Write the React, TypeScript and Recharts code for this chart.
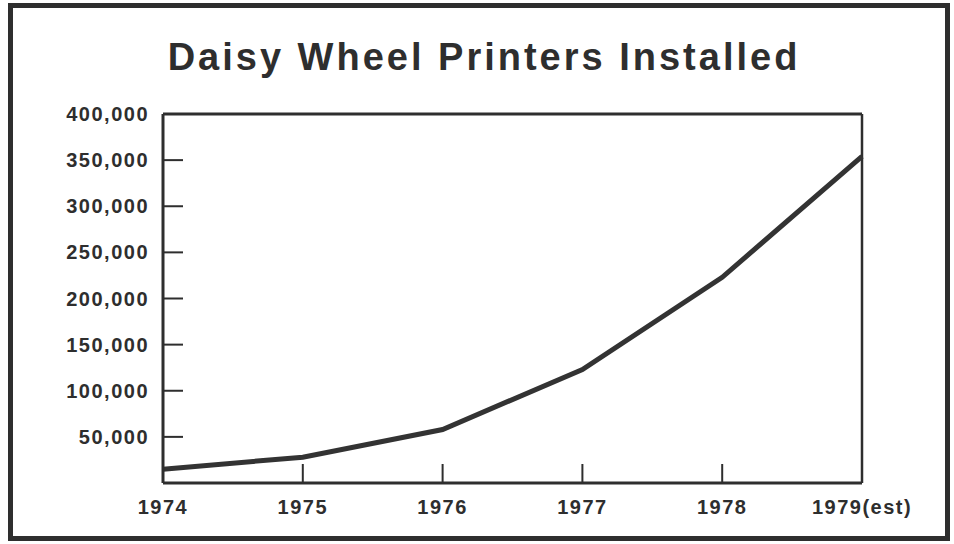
import React from 'react';
import { LineChart, Line, XAxis, YAxis, ReferenceLine } from 'recharts';

const years = [1974, 1975, 1976, 1977, 1978, 1979];
const yearLabels = ['1974', '1975', '1976', '1977', '1978', '1979(est)'];
const installed = [15000, 28000, 58000, 123000, 223000, 354000];
const yTicks = [50000, 100000, 150000, 200000, 250000, 300000, 350000, 400000];

const data = years.map((y, i) => ({ year: y, installed: installed[i] }));

const INK = '#2e2e2e';
const FONT = '"Liberation Sans", Arial, Helvetica, sans-serif';

export default function App() {
  return (
    <div style={{ position: 'fixed', left: 0, top: 0, width: 954, height: 544, background: '#fff' }}>
      <div
        style={{
          position: 'absolute',
          left: 8,
          top: 3,
          width: 942,
          height: 538,
          border: `5px solid ${INK}`,
          boxSizing: 'border-box',
        }}
      />
      <div
        style={{
          position: 'absolute',
          left: 0,
          width: 968,
          top: 35,
          textAlign: 'center',
          fontFamily: FONT,
          fontWeight: 'bold',
          fontSize: 38,
          letterSpacing: 3,
          color: INK,
          lineHeight: '44px',
        }}
      >
        Daisy Wheel Printers Installed
      </div>
      <div style={{ position: 'absolute', left: 0, top: 0 }}>
        <LineChart
          width={954}
          height={544}
          data={data}
          margin={{ top: 114, right: 92, bottom: 21, left: 0 }}
        >
          <XAxis
            dataKey="year"
            type="number"
            domain={[1974, 1979]}
            ticks={years}
            tickFormatter={(v: number) => yearLabels[years.indexOf(v)]}
            height={40}
            tickSize={-19}
            tickMargin={36}
            axisLine={{ stroke: INK, strokeWidth: 3 }}
            tickLine={{ stroke: INK, strokeWidth: 2 }}
            tick={{ fill: INK, fontFamily: FONT, fontWeight: 'bold', fontSize: 20, letterSpacing: 1.5 }}
            interval={0}
          />
          <YAxis
            type="number"
            domain={[0, 400000]}
            ticks={yTicks}
            width={163}
            tickSize={-20}
            tickMargin={34}
            tickFormatter={(v: number) => v.toLocaleString('en-US')}
            axisLine={{ stroke: INK, strokeWidth: 3 }}
            tickLine={{ stroke: INK, strokeWidth: 2 }}
            tick={{ fill: INK, fontFamily: FONT, fontWeight: 'bold', fontSize: 20, letterSpacing: 1.5 }}
            interval={0}
          />
          <ReferenceLine y={400000} stroke={INK} strokeWidth={3} />
          <ReferenceLine x={1979} stroke={INK} strokeWidth={2.5} />
          <Line
            type="linear"
            dataKey="installed"
            stroke="#333"
            strokeWidth={5}
            dot={false}
            isAnimationActive={false}
          />
        </LineChart>
      </div>
    </div>
  );
}
